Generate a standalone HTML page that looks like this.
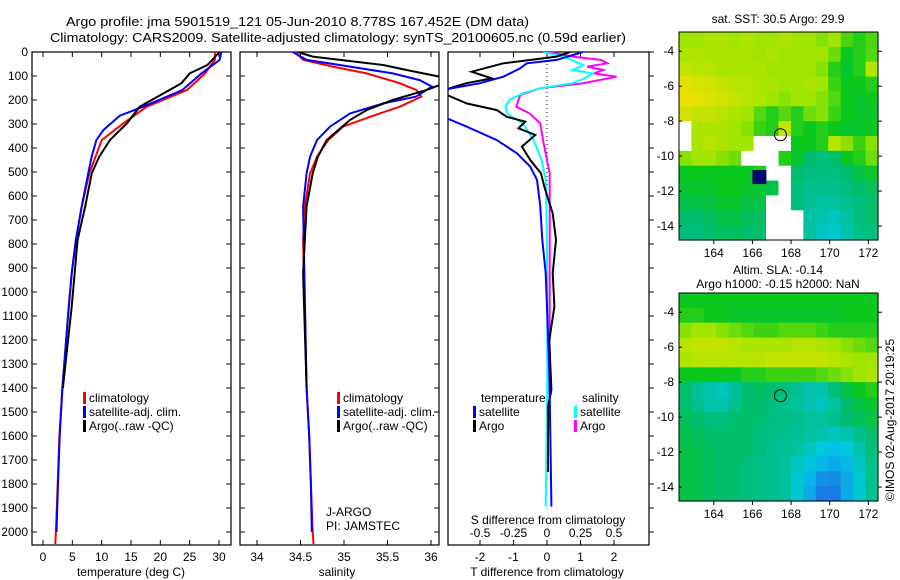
<!DOCTYPE html>
<html><head><meta charset="utf-8"><style>
html,body{margin:0;padding:0;background:#fff}
svg{display:block;font-family:"Liberation Sans",sans-serif}
</style></head><body>
<svg id="s" width="900" height="580" viewBox="0 0 900 580">
<text x="66" y="26" font-size="13" textLength="463" lengthAdjust="spacingAndGlyphs">Argo profile: jma 5901519_121 05-Jun-2010 8.778S 167.452E (DM data)</text>
<text x="50" y="42" font-size="13" textLength="576" lengthAdjust="spacingAndGlyphs">Climatology: CARS2009. Satellite-adjusted climatology: synTS_20100605.nc (0.59d earlier)</text>
<text x="778" y="23" font-size="12" text-anchor="middle">sat. SST: 30.5 Argo: 29.9</text>
<text x="778" y="274" font-size="12" text-anchor="middle">Altim. SLA: -0.14</text>
<text x="778" y="288" font-size="12" text-anchor="middle">Argo h1000: -0.15 h2000: NaN</text>
<text transform="translate(894,420) rotate(-90)" font-size="12" text-anchor="middle">©IMOS 02-Aug-2017 20:19:25</text>
</svg>
<script>
// ---- data ----
const depthTicks=[0,100,200,300,400,500,600,700,800,900,1000,1100,1200,1300,1400,1500,1600,1700,1800,1900,2000];
const tempTicks=[0,5,10,15,20,25,30];
const salTicks=[34,34.5,35,35.5,36];
const tdTicks=[-2,-1,0,1,2];
const sdTicks=[-0.5,-0.25,0,0.25,0.5];
const lonTicks=[164,166,168,170,172];
const latTicks=[-4,-6,-8,-10,-12,-14];

const tClimDepth=[0,33,89,158,228,297,367,506,644,783,922,1089,1400,1600,1800,2000,2050];
const tClim=[29.3,29.3,27.6,24.6,17.7,13.7,10.0,7.9,6.6,5.6,4.9,4.3,3.3,2.8,2.5,2.2,2.1];
const tSatDepth=[0,33,89,158,228,265,325,367,436,506,644,783,922,1089,1400,1600,1800,2000];
const tSat=[30.4,30.1,27.0,23.8,17.1,13.1,10.3,9.1,8.3,7.7,6.6,5.6,4.9,4.3,3.3,2.85,2.55,2.3];
const tArgoDepth=[0,54,89,130,158,228,297,367,436,506,644,783,1061,1400];
const tArgo=[30.1,28.0,25.0,23.6,21.6,16.5,14.3,11.4,9.6,8.3,7.2,5.9,4.9,3.4];

const sClimDepth=[0,33,61,89,130,158,186,228,270,311,367,436,506,644,783,1400,1600,1800,2000,2050];
const sClim=[34.44,34.53,34.87,35.26,35.64,35.83,35.89,35.64,35.3,34.99,34.82,34.69,34.61,34.55,34.53,34.57,34.6,34.62,34.64,34.65];
const sSatDepth=[0,33,61,89,117,144,186,214,256,311,367,436,506,644,1400,1600,1800,2000];
const sSat=[34.41,34.57,35.07,35.56,35.87,36.01,35.83,35.45,35.07,34.84,34.69,34.61,34.57,34.53,34.57,34.6,34.62,34.63];
const sArgoDepth=[0,19,54,75,103,138,158,200,242,283,367,436,506,644,922,1400];
const sArgo=[34.47,34.64,35.45,35.72,36.1,36.1,35.95,35.56,35.26,35.07,34.8,34.7,34.64,34.57,34.53,34.57];

const dTSatDepth=[0,33,47,68,103,130,158,270,311,367,422,478,533,644,783,922,1061,1339,1617,1894];
const dTSat=[1.07,0.29,-0.6,-0.8,-1.3,-2.0,-3.1,-3.1,-2.4,-1.5,-0.9,-0.5,-0.3,-0.2,-0.14,-0.04,0,0.07,0.1,0.13];
const dTArgoDepth=[0,19,47,82,110,130,151,172,214,242,270,290,318,346,394,450,506,561,672,783,922,1061,1200,1408,1478,1750];
const dTArgo=[0.69,0.29,-1.3,-2.25,-1.65,-2.4,-2.9,-3.1,-2.4,-1.5,-1.2,-0.65,-0.85,-0.35,-0.75,-0.5,-0.18,-0.08,0.17,0.27,0.17,0.22,0.07,0.13,0.03,0.03];
const dSSatDepth=[0,19,54,75,89,110,130,151,172,200,228,256,297,367,450,533,783,1339,1894];
const dSSat=[-0.03,0.12,0.27,0.19,0.34,0.28,0.19,-0.05,-0.18,-0.28,-0.31,-0.3,-0.18,-0.1,-0.04,-0.01,0,0.003,-0.01];
const dSArgoDepth=[0,19,33,47,61,75,89,103,130,151,179,228,256,297,367,450,506,700,1200];
const dSArgo=[0.01,0.19,0.4,0.45,0.3,0.42,0.35,0.52,0.27,-0.05,-0.2,-0.23,-0.13,-0.05,-0.03,0,0.02,0.02,0.02];

const sstGrid=[
[0.72,0.72,0.74,0.74,0.72,0.74,0.72,0.72,0.74,0.72,0.72,0.7,0.72,0.65,0.62,0.65],
[0.74,0.75,0.74,0.74,0.74,0.73,0.72,0.74,0.72,0.72,0.72,0.72,0.68,0.6,0.62,0.66],
[0.78,0.76,0.76,0.74,0.74,0.74,0.74,0.72,0.72,0.72,0.72,0.7,0.62,0.58,0.62,0.75],
[0.84,0.82,0.8,0.78,0.76,0.76,0.74,0.74,0.72,0.72,0.74,0.72,0.64,0.6,0.6,0.62],
[0.86,0.84,0.82,0.8,0.78,0.76,0.74,0.72,0.7,0.72,0.72,0.7,0.66,0.6,0.58,0.6],
[0.8,0.78,0.78,0.76,0.74,0.72,0.66,0.62,0.66,0.62,0.68,0.7,0.64,0.6,0.58,0.58],
[null,0.74,0.74,0.74,0.72,0.7,0.64,0.62,0.78,0.62,0.6,0.62,0.6,0.58,0.58,0.6],
[null,0.74,0.76,0.74,0.72,0.72,null,null,null,0.6,0.6,0.62,0.76,0.7,0.64,0.7],
[0.7,0.72,0.72,0.7,0.68,null,null,null,0.62,0.58,0.5,0.48,0.5,0.6,0.62,0.68],
[0.6,0.6,0.6,0.6,0.6,0.6,0.62,null,null,0.5,0.48,0.48,0.48,0.5,0.55,0.58],
[0.58,0.58,0.58,0.6,0.6,0.58,0.58,0.55,null,0.48,0.46,0.46,0.46,0.48,0.5,0.52],
[0.55,0.55,0.56,0.58,0.58,0.55,0.55,null,null,0.48,0.45,0.44,0.44,0.46,0.48,0.5],
[0.5,0.5,0.52,0.55,0.55,0.52,0.52,null,null,null,0.44,0.42,0.4,0.44,0.48,0.5],
[0.48,0.48,0.5,0.52,0.52,0.5,0.5,null,null,null,0.44,0.4,0.38,0.42,0.46,0.48]];
const slaGrid=[
[0.6,0.6,0.6,0.6,0.6,0.6,0.6,0.6,0.6,0.6,0.6,0.6,0.6,0.6,0.6,0.6],
[0.62,0.62,0.6,0.6,0.58,0.58,0.58,0.58,0.58,0.58,0.58,0.58,0.58,0.6,0.6,0.6],
[0.7,0.72,0.72,0.7,0.68,0.66,0.64,0.64,0.66,0.66,0.66,0.64,0.62,0.62,0.62,0.62],
[0.76,0.78,0.78,0.78,0.76,0.74,0.74,0.74,0.74,0.76,0.76,0.74,0.72,0.7,0.68,0.66],
[0.74,0.76,0.76,0.76,0.76,0.76,0.76,0.78,0.78,0.78,0.78,0.78,0.76,0.74,0.72,0.72],
[0.6,0.6,0.6,0.6,0.6,0.62,0.62,0.64,0.64,0.64,0.64,0.66,0.68,0.7,0.72,0.74],
[0.5,0.45,0.42,0.4,0.45,0.5,0.52,0.5,0.48,0.45,0.42,0.42,0.48,0.55,0.6,0.62],
[0.5,0.46,0.42,0.42,0.46,0.5,0.5,0.48,0.46,0.44,0.42,0.4,0.44,0.5,0.55,0.58],
[0.52,0.5,0.48,0.48,0.5,0.5,0.5,0.48,0.47,0.46,0.44,0.44,0.46,0.5,0.52,0.55],
[0.54,0.52,0.5,0.5,0.5,0.5,0.48,0.47,0.46,0.45,0.44,0.42,0.4,0.42,0.46,0.5],
[0.55,0.54,0.52,0.5,0.5,0.5,0.48,0.46,0.45,0.43,0.4,0.36,0.34,0.36,0.42,0.48],
[0.55,0.54,0.52,0.5,0.5,0.48,0.47,0.46,0.44,0.4,0.36,0.32,0.3,0.32,0.4,0.46],
[0.55,0.54,0.52,0.5,0.5,0.48,0.47,0.46,0.44,0.38,0.32,0.26,0.25,0.3,0.38,0.46],
[0.55,0.54,0.52,0.5,0.5,0.48,0.47,0.46,0.44,0.38,0.3,0.22,0.22,0.3,0.38,0.46]];
const argoLon=167.452, argoLat=-8.778;

// ---- helpers ----
const S=document.getElementById('s'),NS='http://www.w3.org/2000/svg';
function mk(tag,at,parent){const e=document.createElementNS(NS,tag);for(const k in at)e.setAttribute(k,at[k]);(parent||S).appendChild(e);return e;}
const TOP=52,BOT=545;
const yP=p=>TOP+0.24*p;
function lin(d0,d1,r0,r1){return v=>r0+(v-d0)*(r1-r0)/(d1-d0);}
const P1={l:32,r:231},P2={l:240,r:439},P3={l:448,r:649};
const xT=lin(0,30,43,219), xS=lin(34,36,257,431), xTD=lin(0,2,547,614), xSD=lin(0,0.5,547,614);

function panelFrame(P,name){
  const g=mk('g',{});
  
  
  const r=mk('rect',{x:P.l,y:TOP,width:P.r-P.l,height:BOT-TOP,fill:'none',stroke:'#000','stroke-width':1.2},g);
  
  
  return g;
}
function clipFor(P,id){const c=mk('clipPath',{id:id});mk('rect',{x:P.l,y:TOP,width:P.r-P.l,height:BOT-TOP},c);}
function line(depths,vals,xf,color,clip,name,w){
  const pts=vals.map((v,i)=>xf(v).toFixed(1)+','+yP(depths[i]).toFixed(1)).join(' ');
  const e=mk('polyline',{points:pts,fill:'none',stroke:color,'stroke-width':w||2,'clip-path':'url(#'+clip+')'});
  
  
}
function txt(x,y,s,attrs,name){const e=mk('text',Object.assign({x:x,y:y,'font-size':12},attrs||{}));e.textContent=s;
  
  return e;}

// ---- panel 1 ----
clipFor(P1,'c1');clipFor(P2,'c2');clipFor(P3,'c3');
panelFrame(P1,'temperature-panel');
depthTicks.forEach(p=>{const y=yP(p);mk('line',{x1:P1.l,x2:P1.l+5,y1:y,y2:y,stroke:'#000'});mk('line',{x1:P1.r-5,x2:P1.r,y1:y,y2:y,stroke:'#000'});
  mk('line',{x1:P2.l,x2:P2.l+5,y1:y,y2:y,stroke:'#000'});mk('line',{x1:P2.r-5,x2:P2.r,y1:y,y2:y,stroke:'#000'});
  mk('line',{x1:P3.r,x2:P3.r+5,y1:y,y2:y,stroke:'#000'});
  txt(28,y+4,String(p),{'text-anchor':'end'},'depth-tick-label');});
tempTicks.forEach(t=>{const x=xT(t);mk('line',{x1:x,x2:x,y1:TOP,y2:TOP+5,stroke:'#000'});mk('line',{x1:x,x2:x,y1:BOT-5,y2:BOT,stroke:'#000'});
  txt(x,561,String(t),{'text-anchor':'middle'},'temperature-tick-label');});
txt(131,576,'temperature (deg C)',{'text-anchor':'middle'},'temperature-axis-title');
line(tClimDepth,tClim,xT,'#f00','c1','temp-climatology-line');
line(tSatDepth,tSat,xT,'#00f','c1','temp-satellite-line');
line(tArgoDepth,tArgo,xT,'#000','c1','temp-argo-line');
// ---- panel 2 ----
panelFrame(P2,'salinity-panel');
salTicks.forEach(t=>{const x=xS(t);mk('line',{x1:x,x2:x,y1:TOP,y2:TOP+5,stroke:'#000'});mk('line',{x1:x,x2:x,y1:BOT-5,y2:BOT,stroke:'#000'});
  txt(x,561,String(t),{'text-anchor':'middle'},'salinity-tick-label');});
txt(337,576,'salinity',{'text-anchor':'middle'},'salinity-axis-title');
line(sClimDepth,sClim,xS,'#f00','c2','sal-climatology-line');
line(sSatDepth,sSat,xS,'#00f','c2','sal-satellite-line');
line(sArgoDepth,sArgo,xS,'#000','c2','sal-argo-line');
// legends
function legend(x,y,items,pre){items.forEach((it,i)=>{const yy=y+i*14;
  const b=mk('rect',{x:x,y:yy-10,width:3,height:12,fill:it[1]});
  
  
  txt(x+6,yy,it[0],{},pre+'-label');});}
legend(83,402,[['climatology','#f00'],['satellite-adj. clim.','#00f'],['Argo(..raw -QC)','#000']],'legend-entry');
legend(337,402,[['climatology','#f00'],['satellite-adj. clim.','#00f'],['Argo(..raw -QC)','#000']],'legend-entry');
txt(326,516,'J-ARGO',{},'data-centre-label');
txt(326,530,'PI: JAMSTEC',{},'pi-label');
// ---- panel 3 ----
panelFrame(P3,'difference-panel');
mk('line',{x1:xTD(0),x2:xTD(0),y1:TOP,y2:185,stroke:'#000','stroke-dasharray':'1,3'});
tdTicks.forEach(t=>{const x=xTD(t);mk('line',{x1:x,x2:x,y1:TOP,y2:TOP+5,stroke:'#000'});
  txt(x,561,String(t),{'text-anchor':'middle'},'t-diff-tick-label');});
sdTicks.forEach(t=>{const x=xSD(t);mk('line',{x1:x,x2:x,y1:BOT-5,y2:BOT,stroke:'#000'});
  txt(x,537,String(t),{'text-anchor':'middle'},'s-diff-tick-label');});
txt(548,524,'S difference from climatology',{'text-anchor':'middle'},'s-diff-axis-title');
txt(547,576,'T difference from climatology',{'text-anchor':'middle'},'t-diff-axis-title');
line(dSArgoDepth,dSArgo,xSD,'#f0f','c3','sdiff-argo-line');
line(dSSatDepth,dSSat,xSD,'#0ff','c3','sdiff-satellite-line');
line(dTArgoDepth,dTArgo,xTD,'#000','c3','tdiff-argo-line');
line(dTSatDepth,dTSat,xTD,'#00f','c3','tdiff-satellite-line');
txt(481,402,'temperature',{},'legend-heading');
txt(582,402,'salinity',{},'legend-heading');
legend(473,416,[['satellite','#00f'],['Argo','#000']],'legend-entry');
legend(574,416,[['satellite','#0ff'],['Argo','#f0f']],'legend-entry');
// ---- maps ----
const stops=[[0.2,[30,110,230]],[0.35,[0,200,230]],[0.5,[0,190,110]],[0.6,[10,200,30]],[0.72,[160,230,0]],[0.85,[235,225,0]]];
function cmap(v){if(v<=stops[0][0])return stops[0][1];for(let i=1;i<stops.length;i++){if(v<=stops[i][0]){const a=stops[i-1],b=stops[i],f=(v-a[0])/(b[0]-a[0]);return a[1].map((c,k)=>Math.round(c+f*(b[1][k]-c)));}}return stops[stops.length-1][1];}
function map(grid,top,name){
  const L=679,R=878,T=top,B=top+208;
  const xl=lin(162.2,172.5,L,R), yl=lin(-2.9,-14.8,T,B);
  const g=mk('g',{});
  
  
  const rows=grid.length,cols=grid[0].length,cw=(R-L)/cols,ch=(B-T)/rows;
  grid.forEach((row,r)=>row.forEach((v,c)=>{
    const col=v===null?[255,255,255]:cmap(v);
    const e=mk('rect',{x:(L+c*cw).toFixed(2),y:(T+r*ch).toFixed(2),width:(cw+0.6).toFixed(2),height:(ch+0.6).toFixed(2),fill:'rgb('+col.join(',')+')'},g);
    
    
  }));
  const fr=mk('rect',{x:L,y:T,width:R-L,height:B-T,fill:'none',stroke:'#000'},g);
  
  
  lonTicks.forEach(t=>{const x=xl(t);mk('line',{x1:x,x2:x,y1:B,y2:B+4,stroke:'#000'},g);txt(x,B+17,String(t),{'text-anchor':'middle'},'lon-tick-label');});
  latTicks.forEach(t=>{const y=yl(t);mk('line',{x1:R,x2:R+4,y1:y,y2:y,stroke:'#000'},g);mk('line',{x1:L,x2:L+3,y1:y,y2:y,stroke:'#000'},g);txt(L-5,y+4,String(t),{'text-anchor':'end'},'lat-tick-label');});
  const c=mk('circle',{cx:xl(argoLon),cy:yl(argoLat),r:6,fill:'none',stroke:'#000'},g);
  
  
  return {xl,yl,g};
}
const m1=map(sstGrid,32,'sst-map');
const nb=mk('rect',{x:m1.xl(166),y:m1.yl(-10.8),width:14,height:14,fill:'#000a6e'});


map(slaGrid,293,'sla-map');
</script>
</body></html>
